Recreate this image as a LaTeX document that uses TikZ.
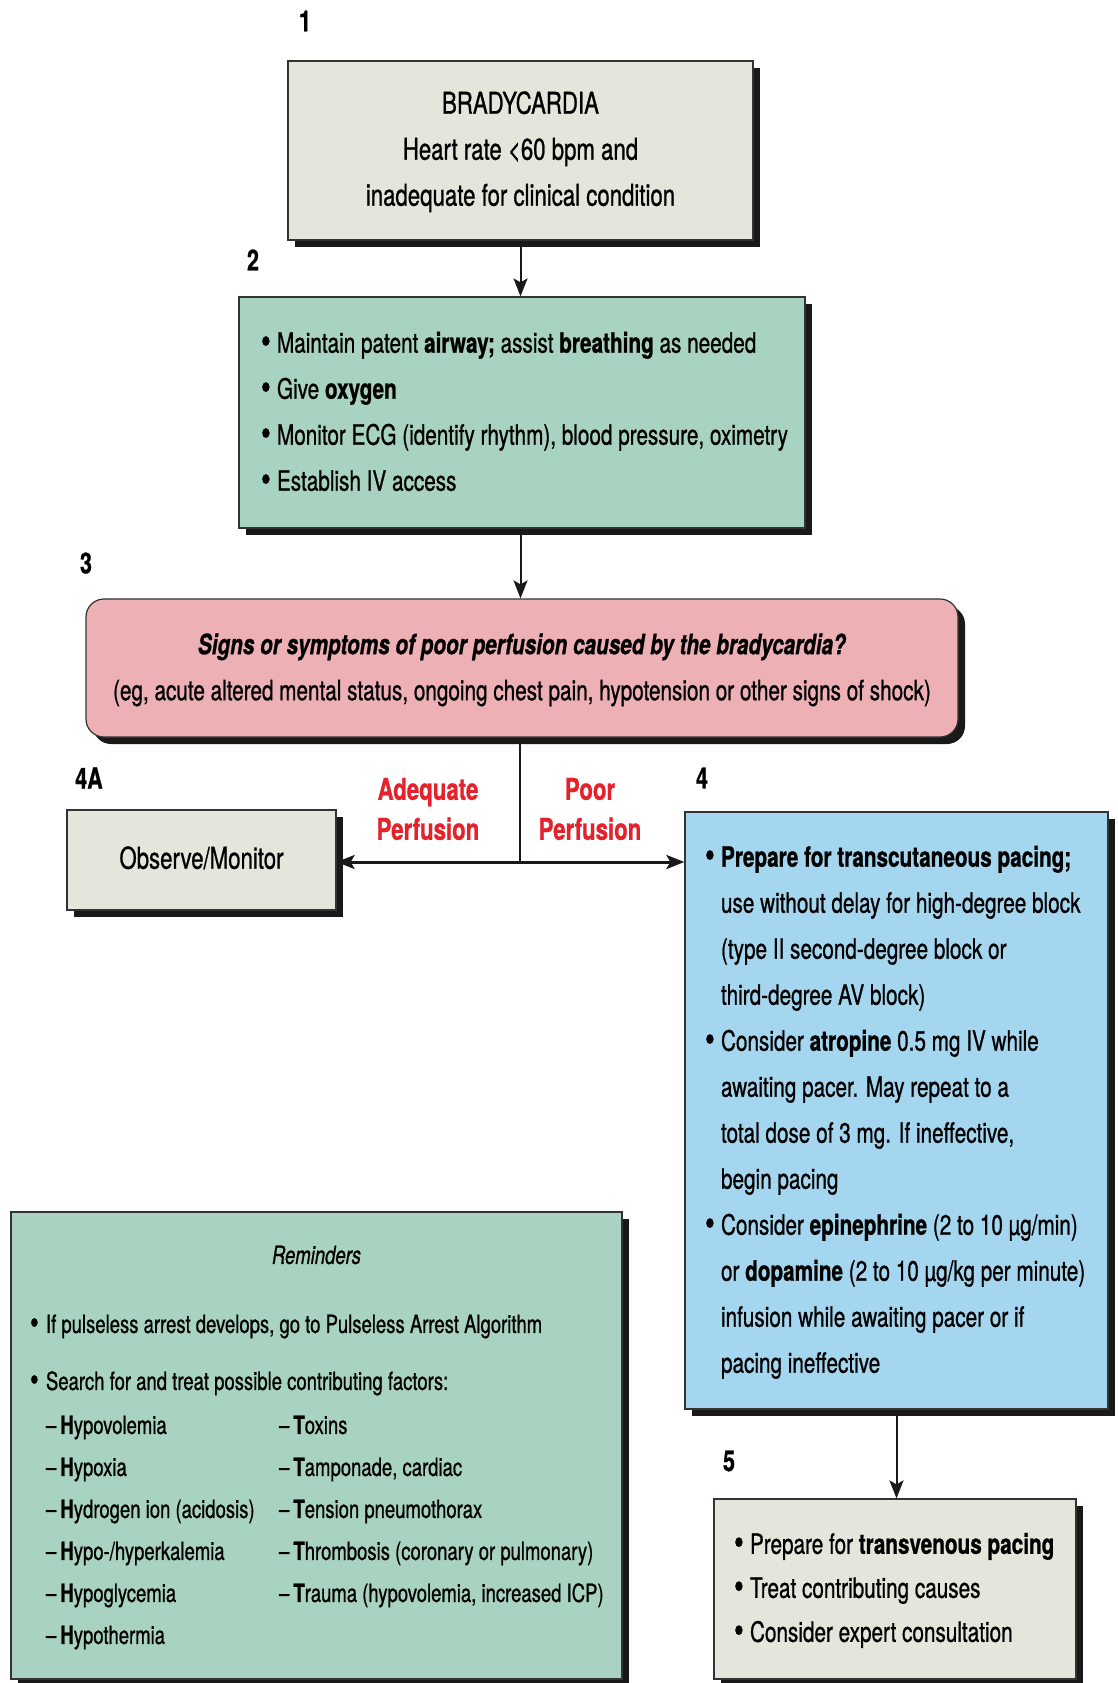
\documentclass[tikz,border=0pt]{standalone}
\usepackage{graphicx}
\usepackage{fontspec}
\setmainfont{TeX Gyre Heros}[FakeStretch=0.74,FakeBold=0.8]
\usetikzlibrary{arrows.meta,shadows}
\definecolor{boxgrey}{HTML}{E4E5DB}
\definecolor{boxgreen}{HTML}{A8D3C0}
\definecolor{boxpink}{HTML}{EDB1B5}
\definecolor{boxblue}{HTML}{A5D6EF}
\definecolor{perfred}{HTML}{E5222B}
\newcommand\mybul{\raisebox{-0.05em}{\scalebox{1.35}{\textbullet}}}
\newcommand\bl{\makebox[16pt][l]{\mybul}}
\newcommand\ind{\hspace*{16pt}}
\begin{document}
\begin{tikzpicture}[x=1pt,y=-1pt,
  box/.style={draw=black!80, line width=1.2pt, inner sep=0pt,
    drop shadow={shadow xshift=7pt,shadow yshift=-7pt,fill=black!90,opacity=1},
    font=\fontsize{28}{46}\selectfont},
  num/.style={font=\fontsize{29}{30}\selectfont\bfseries, inner sep=0pt},
  conn/.style={line width=2pt, draw=black!90},
  arr/.style={conn, -{Stealth[length=18pt,width=14pt,inset=4pt]}},
  perf/.style={font=\fontsize{30}{40}\selectfont\bfseries, text=perfred, align=center, inner sep=0pt}]
\useasboundingbox (0,0) rectangle (1117,1683);
\fill[white] (0,0) rectangle (1117,1683);

\node[box, fill=boxgrey, minimum width=465pt, minimum height=179pt, font=\fontsize{30}{46}\selectfont] (b1) at (520.5,150.5)
  {\begin{tabular}{@{}c@{}}BRADYCARDIA\\Heart rate <60 bpm and\\inadequate for clinical condition\end{tabular}};

\node[box, fill=boxgreen, minimum width=566pt, minimum height=231pt] (b2) at (522,412.5)
  {\makebox[522pt][l]{\begin{tabular}{@{}l@{}}
  \bl Maintain patent \textbf{airway;} assist \textbf{breathing} as needed\\
  \bl Give \textbf{oxygen}\\
  \bl Monitor ECG (identify rhythm), blood pressure, oximetry\\
  \bl Establish IV access\end{tabular}}};

\node[box, fill=boxpink, rounded corners=18pt, minimum width=872pt, minimum height=138pt] (b3) at (522,668)
  {\begin{tabular}{@{}c@{}}\textbf{\itshape Signs or symptoms of poor perfusion caused by the bradycardia?}\\
  (eg, acute altered mental status, ongoing chest pain, hypotension or other signs of shock)\end{tabular}};

\node[box, fill=boxgrey, minimum width=269pt, minimum height=100pt, font=\fontsize{30}{46}\selectfont] (b4a) at (201.5,860)
  {\raisebox{5pt}{Observe/Monitor}};

\node[box, fill=boxblue, minimum width=423pt, minimum height=597pt] (b4) at (896.5,1110.5)
  {\makebox[383pt][l]{\begin{tabular}{@{}l@{}}
  \bl\textbf{Prepare for transcutaneous pacing;}\\
  \ind use without delay for high-degree block\\
  \ind (type II second-degree block or\\
  \ind third-degree AV block)\\
  \bl Consider \textbf{atropine} 0.5 mg IV while\\
  \ind awaiting pacer. May repeat to a\\
  \ind total dose of 3 mg. If ineffective,\\
  \ind begin pacing\\
  \bl Consider \textbf{epinephrine} (2 to 10 µg/min)\\
  \ind or \textbf{dopamine} (2 to 10 µg/kg per minute)\\
  \ind infusion while awaiting pacer or if\\
  \ind pacing ineffective\end{tabular}}};

\node[box, fill=boxgrey, minimum width=362pt, minimum height=180pt, font=\fontsize{28}{44}\selectfont] (b5) at (895,1589)
  {\makebox[322pt][l]{\begin{tabular}{@{}l@{}}
  \bl Prepare for \textbf{transvenous pacing}\\
  \bl Treat contributing causes\\
  \bl Consider expert consultation\end{tabular}}};

\node[box, fill=boxgreen, minimum width=611pt, minimum height=467pt, font=\fontsize{25}{42}\selectfont] (rem) at (316.5,1445.5)
  {\makebox[573pt][l]{\begin{tabular}{@{}p{16pt}@{}p{233pt}@{}l@{}}
  \multicolumn{3}{@{}l@{}}{\makebox[573pt][c]{\itshape Reminders}}\\[27pt]
  \mybul & \multicolumn{2}{@{}l@{}}{If pulseless arrest develops, go to Pulseless Arrest Algorithm}\\[15pt]
  \mybul & \multicolumn{2}{@{}l@{}}{Search for and treat possible contributing factors:}\\[2pt]
  & –\,\textbf{H}ypovolemia & –\,\textbf{T}oxins\\
  & –\,\textbf{H}ypoxia & –\,\textbf{T}amponade, cardiac\\
  & –\,\textbf{H}ydrogen ion (acidosis) & –\,\textbf{T}ension pneumothorax\\
  & –\,\textbf{H}ypo-/hyperkalemia & –\,\textbf{T}hrombosis (coronary or pulmonary)\\
  & –\,\textbf{H}ypoglycemia & –\,\textbf{T}rauma (hypovolemia, increased ICP)\\
  & –\,\textbf{H}ypothermia & \\
  \end{tabular}}};

\node[num] (n1) at (305,21) {1};
\node[num] (n2) at (253,260) {2};
\node[num] (n3) at (86,563) {3};
\node[num] (n4a) at (89,778) {4A};
\node[num] (n4) at (702,778) {4};
\node[num] (n5) at (729,1461) {5};

\node[perf] (adq) at (428,809) {Adequate\\Perfusion};
\node[perf] (poor) at (590,809) {Poor\\Perfusion};

\coordinate (j) at (520,862);
\draw[arr] (b1.south) -- (b1.south |- b2.north);
\draw[arr] (b2.south -| b1.south) -- (b3.north -| b1.south);
\draw[conn] (b3.south -| j) -- (j);
\draw[arr, line width=3pt] (j) -- (j -| b4a.east);
\draw[arr, line width=3pt] (j) -- (j -| b4.west);
\draw[arr] (b4.south) -- (b4.south |- b5.north);
\end{tikzpicture}
\end{document}
